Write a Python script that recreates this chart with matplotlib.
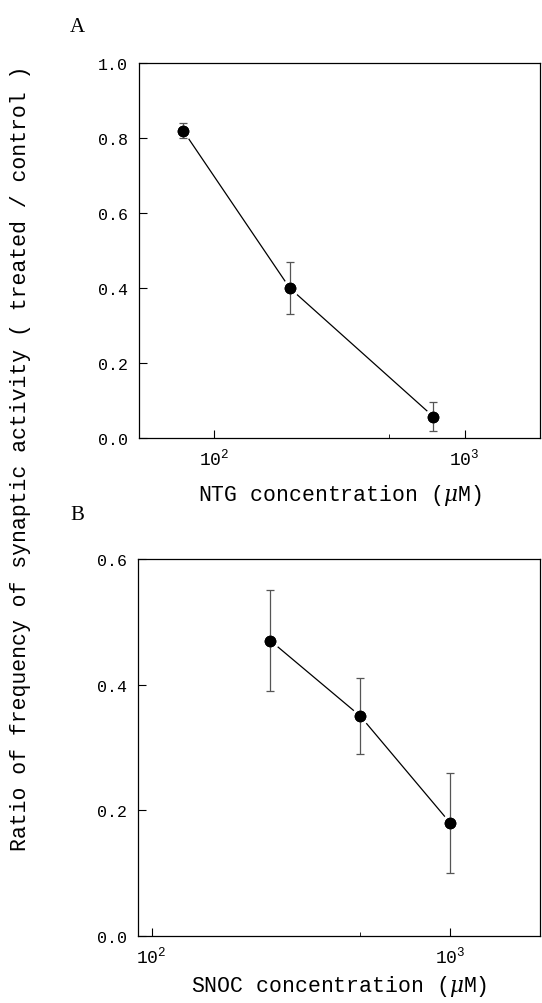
import matplotlib
matplotlib.use("Agg")
import matplotlib.pyplot as plt
from matplotlib.ticker import LogLocator, FixedLocator

plt.rcParams['font.family'] = ['Liberation Mono', 'DejaVu Sans']
plt.rcParams['mathtext.fontset'] = 'custom'
plt.rcParams['mathtext.rm'] = 'Liberation Mono'
plt.rcParams['mathtext.it'] = 'DejaVu Serif:italic'

# painel A - NTG
ntg_conc = [75, 200, 750]
ntg_ratio = [0.82, 0.40, 0.057]
ntg_err = [0.02, 0.07, 0.038]

# painel B - SNOC
snoc_conc = [250, 500, 1000]
snoc_ratio = [0.47, 0.35, 0.18]
snoc_err = [0.08, 0.06, 0.08]

fig = plt.figure(figsize=(5.42, 10.04), dpi=100)
ax_a = fig.add_axes([139/542, 1 - 439/1004, 401/542, 375/1004])
ax_b = fig.add_axes([138/542, 1 - 937/1004, 402/542, 377/1004])


def desenha(ax, x, y, err, xlim, ylim, yticks, xlabel, pad_label):
    ax.plot(x, y, color="black", lw=0.9, zorder=1)
    ax.plot(x, y, "o", color="black", ms=10.6, mec="white", mew=2.2, zorder=2)
    ax.errorbar(x, y, yerr=err, fmt="none", ecolor="#555555", elinewidth=0.9,
                capsize=3, capthick=0.9, zorder=3)
    ax.plot(x, y, "o", color="black", ms=8.4, mew=0, zorder=4)
    ax.set_xscale("log")
    ax.set_xlim(*xlim)
    ax.set_ylim(*ylim)
    ax.set_yticks(yticks)
    ax.set_yticklabels([f"{t:.1f}" for t in yticks])
    ax.xaxis.set_major_locator(FixedLocator([100, 1000]))
    ax.set_xticklabels(["$10^{2}$", "$10^{3}$"], fontsize=13)
    ax.xaxis.set_minor_locator(LogLocator(base=10, subs=[5.0]))
    ax.xaxis.set_minor_formatter(plt.NullFormatter())
    ax.tick_params(which="major", direction="in", length=6, width=0.8,
                   labelsize=12, pad=8)
    ax.tick_params(axis="x", which="major", labelsize=13, pad=7)
    ax.tick_params(which="minor", direction="in", length=3, width=0.6)
    for s in ax.spines.values():
        s.set_linewidth(0.9)
    ax.set_xlabel(xlabel, fontsize=15.5, labelpad=pad_label)


desenha(ax_a, ntg_conc, ntg_ratio, ntg_err, (50, 2000), (0, 1.0),
        [0.0, 0.2, 0.4, 0.6, 0.8, 1.0], r"NTG concentration ($\mu$M)", 10)
desenha(ax_b, snoc_conc, snoc_ratio, snoc_err, (90, 2000), (0, 0.6),
        [0.0, 0.2, 0.4, 0.6], r"SNOC concentration ($\mu$M)", 5)

fig.text(77/542, 1 - 28/1004, "A", family="Liberation Serif", fontsize=15,
         ha="center", va="center")
fig.text(77/542, 1 - 516/1004, "B", family="Liberation Serif", fontsize=15,
         ha="center", va="center")
fig.text(21/542, 1 - 458/1004,
         "Ratio of frequency of synaptic activity ( treated / control )",
         fontsize=15.5, rotation=90, ha="center", va="center")

fig.savefig("out.png", dpi=100)
